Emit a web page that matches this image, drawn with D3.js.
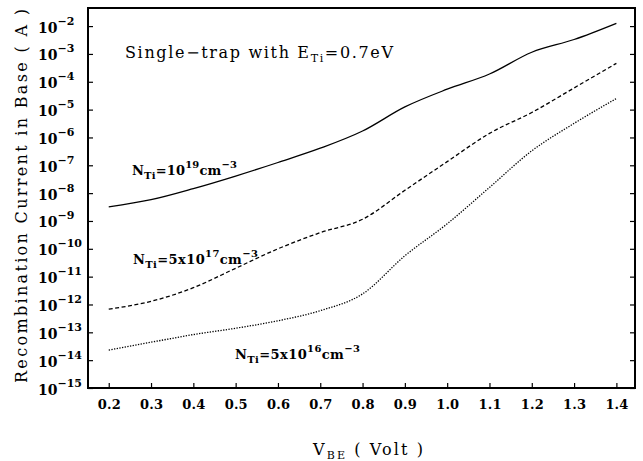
<!DOCTYPE html>
<html>
<head>
<meta charset="utf-8">
<script src="https://cdn.jsdelivr.net/npm/d3@7/dist/d3.min.js"></script>
<style>
  body { margin: 0; background: #fff; }
  text { font-family: "DejaVu Serif", serif; fill: #000; }
</style>
</head>
<body>
<div id="chart"></div>
<script>
// Data: base recombination current (A) vs V_BE (V)
const vbe = [0.2, 0.3, 0.4, 0.5, 0.6, 0.7, 0.8, 0.9, 1.0, 1.1, 1.2, 1.3, 1.4];
const currentN19   = [3.2e-9, 5.8e-9, 1.45e-8, 4.1e-8, 1.26e-7, 4.1e-7, 1.7e-6, 1.25e-5, 5.4e-5, 1.9e-4, 1.15e-3, 3.3e-3, 1.26e-2];
const currentN5e17 = [6.8e-13, 1.3e-12, 4.0e-12, 2.0e-11, 1.0e-10, 3.8e-10, 1.15e-9, 1.26e-8, 1.35e-7, 1.4e-6, 7.9e-6, 6.0e-5, 4.6e-4];
const currentN5e16 = [2.3e-14, 4.4e-14, 8.3e-14, 1.4e-13, 2.6e-13, 6.0e-13, 2.4e-12, 5.6e-11, 7.9e-10, 1.6e-8, 3.3e-7, 3.2e-6, 2.5e-5];
const xTickValues = [0.2, 0.3, 0.4, 0.5, 0.6, 0.7, 0.8, 0.9, 1.0, 1.1, 1.2, 1.3, 1.4];
const yTickExponents = [-2, -3, -4, -5, -6, -7, -8, -9, -10, -11, -12, -13, -14, -15];

const margin = {top: 8, right: 8, bottom: 73, left: 88},
      width = 643 - margin.left - margin.right,
      height = 461 - margin.top - margin.bottom;

const svg = d3.select("#chart")
    .append("svg")
    .attr("width", width + margin.left + margin.right)
    .attr("height", height + margin.top + margin.bottom);

const g = svg.append("g")
    .attr("transform", `translate(${margin.left},${margin.top})`);

const x = d3.scaleLinear().domain([0.151, 1.444]).range([0, width]);
const y = d3.scaleLog().domain([1e-15, Math.pow(10, -1.35)]).range([height, 0]);

// writes a label made of plain / sub / sup pieces
function richText(sel, parts, base, small, up) {
    let shift = 0;
    parts.forEach(p => {
        const target = p.s === "sub" ? 4 : p.s === "sup" ? -(up || 7) : 0;
        sel.append("tspan")
            .attr("dy", target - shift)
            .style("font-size", (p.s ? small : base) + "px")
            .text(p.t);
        shift = target;
    });
}

// x axis
const xAxis = g.append("g")
    .attr("transform", `translate(0,${height})`)
    .call(d3.axisBottom(x).tickValues(xTickValues).tickSize(-5).tickPadding(12).tickFormat(d3.format(".1f")));
xAxis.selectAll("text")
    .style("font-size", "13px").style("font-weight", "bold")
    .style("font-family", "DejaVu Serif")
    .attr("textLength", 23).attr("lengthAdjust", "spacing");

// y axis, labels like 10^-n
const yAxis = g.append("g")
    .call(d3.axisLeft(y).tickValues(yTickExponents.map(e => Math.pow(10, e))).tickSize(-5).tickFormat(""));
yAxis.selectAll(".tick").each(function(d, i) {
    const t = d3.select(this).select("text")
        .attr("x", -50).attr("dy", null).attr("y", 6)
        .attr("text-anchor", "start")
        .style("font-weight", "bold").style("font-family", "DejaVu Serif");
    richText(t, [{t: "10"}, {t: "\u2212" + Math.abs(yTickExponents[i]), s: "sup"}], 14, 11, 8);
});

g.append("g")
    .attr("transform", `translate(${width},0)`)
    .call(d3.axisRight(y).tickValues(yTickExponents.map(e => Math.pow(10, e))).tickSize(-5).tickFormat(""));

g.selectAll(".domain").remove();
g.selectAll(".tick line").attr("stroke", "#000").attr("stroke-width", 1.2);

g.append("rect")
    .attr("width", width).attr("height", height)
    .attr("fill", "none").attr("stroke", "#000").attr("stroke-width", 2);

// curves
const line = d3.line()
    .x((d, i) => x(vbe[i]))
    .y(d => y(d))
    .curve(d3.curveMonotoneX);

const series = [
    {values: currentN19, dash: null},
    {values: currentN5e17, dash: "4,2.5"},
    {values: currentN5e16, dash: "1.3,1.4"}
];
g.selectAll(".curve")
    .data(series)
    .enter().append("path")
    .attr("class", "curve")
    .attr("d", d => line(d.values))
    .attr("fill", "none")
    .attr("stroke", "#000")
    .attr("stroke-width", 1.3)
    .attr("stroke-dasharray", d => d.dash);

// annotations
const note = svg.append("text").attr("x", 125).attr("y", 58)
    .attr("textLength", 268).attr("lengthAdjust", "spacing");
richText(note, [{t: "Single\u2212trap with E"}, {t: "Ti", s: "sub"}, {t: "=0.7eV"}], 16, 11);

const labels = [
    {x: 132, y: 175, w: 105, parts: [{t: "N"}, {t: "Ti", s: "sub"}, {t: "=10"}, {t: "19", s: "sup"}, {t: "cm"}, {t: "\u22123", s: "sup"}]},
    {x: 133, y: 264, w: 125, parts: [{t: "N"}, {t: "Ti", s: "sub"}, {t: "=5x10"}, {t: "17", s: "sup"}, {t: "cm"}, {t: "\u22123", s: "sup"}]},
    {x: 235, y: 359, w: 125, parts: [{t: "N"}, {t: "Ti", s: "sub"}, {t: "=5x10"}, {t: "16", s: "sup"}, {t: "cm"}, {t: "\u22123", s: "sup"}]}
];
labels.forEach(l => {
    const t = svg.append("text").attr("x", l.x).attr("y", l.y)
        .attr("textLength", l.w).attr("lengthAdjust", "spacing")
        .style("font-weight", "bold");
    richText(t, l.parts, 13, 10);
});

// axis titles
const xTitle = svg.append("text").attr("x", 313).attr("y", 455)
    .attr("textLength", 110).attr("lengthAdjust", "spacing");
richText(xTitle, [{t: "V"}, {t: "BE", s: "sub"}, {t: " ( Volt )"}], 16, 11);

svg.append("text")
    .attr("transform", "translate(27,196) rotate(-90)")
    .attr("text-anchor", "middle")
    .attr("textLength", 374)
    .attr("lengthAdjust", "spacing")
    .style("font-size", "16px")
    .text("Recombination Current in Base ( A )");
</script>
</body>
</html>
